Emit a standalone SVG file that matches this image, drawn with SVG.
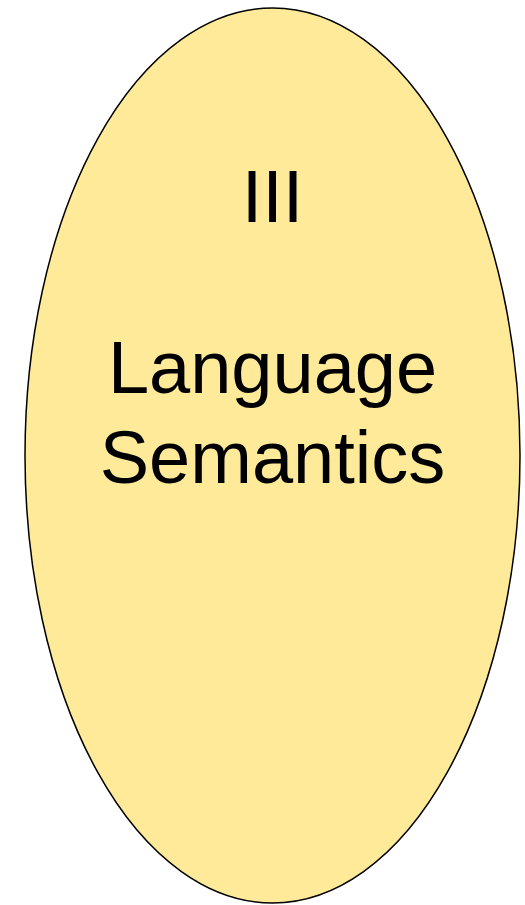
<svg xmlns="http://www.w3.org/2000/svg" width="525" height="905" viewBox="0 0 525 905">
  <style>
    .shape { fill: #FEEA98; stroke: #000000; stroke-width: 1.5; }
    .label { font-family: "Liberation Sans", Arial, sans-serif; font-size: 74px; fill: #000000; text-anchor: middle; }
  </style>
  <rect width="525" height="905" fill="#FFFFFF"/>
  <g id="node-language-semantics">
    <ellipse class="shape" cx="272.5" cy="455.5" rx="247.5" ry="447.5"/>
    <text class="label" x="272.5" y="222">III</text>
    <text class="label" x="272.5" y="393">Language</text>
    <text class="label" x="272.5" y="483">Semantics</text>
  </g>
  <g id="connectors"/>
</svg>
